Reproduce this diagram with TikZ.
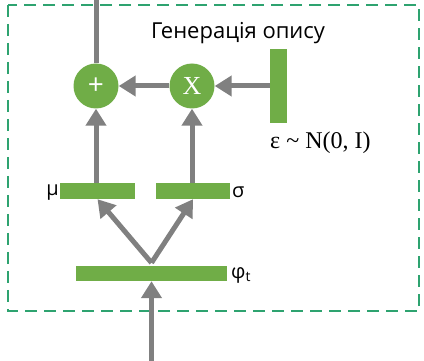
\documentclass[tikz,border=0pt]{standalone}
\usepackage{fontspec}
\setmainfont{Liberation Serif}
\newfontfamily\labfont{Open Sans}
\usetikzlibrary{arrows.meta}
\definecolor{gr}{RGB}{112,173,71}
\definecolor{dashcol}{RGB}{46,163,112}
\definecolor{ar}{RGB}{128,128,128}
\begin{document}
\begin{tikzpicture}[x=1pt,y=-1pt,
  bar/.style={fill=gr,draw=none,inner sep=0pt,minimum width=#1},
  op/.style={circle,fill=gr,draw=none,minimum size=45pt,inner sep=0pt,text=white},
  conn/.style={draw=ar,line width=5pt,-{Triangle[length=17pt,width=20pt]}},
  lab/.style={font=\labfont\fontsize{20}{22}\selectfont,inner sep=0pt}]
\useasboundingbox (0,0) rectangle (424,361);
\draw[dashcol,line width=2.5pt,dash pattern=on 12pt off 7pt] (8,5) rectangle (419,311);
% nodes
\node[op,font=\fontsize{28}{28}\selectfont\labfont] (plus) at (96,86) {+};
\node[op,font=\fontsize{26}{26}\selectfont] (mul) at (192,86) {X};
\node[bar=17pt,minimum height=74pt] (eps) at (278.5,86) {};
\node[bar=75pt,minimum height=16pt] (mu) at (97.5,191) {};
\node[bar=74pt,minimum height=16pt] (sig) at (193,191) {};
\node[bar=151pt,minimum height=15pt] (phi) at (151.5,273.5) {};
\node[lab,font=\labfont\fontsize{22}{24}\selectfont,anchor=center] (gen) at (238,33) {Генерація опису};
\node[font=\fontsize{24}{26}\selectfont,anchor=west,inner sep=0pt] (epsl) at (270,143) {ε \textasciitilde\ N(0, I)};
\node[lab,anchor=east] (mulab) at (59,193) {μ};
\node[lab,anchor=west] (sigl) at (232,192) {σ};
\node[lab,anchor=west] (phil) at (231,275) {φ\textsubscript{t}};
\coordinate (top) at (96,0);
\coordinate (bot) at (151.5,361);
% connectors
\draw[draw=ar,line width=5pt] (plus.north) -- (top);
\draw[conn] (eps.west) -- (mul.east);
\draw[conn] (mul.west) -- (plus.east);
\draw[conn] (mu.north -| plus) -- (plus.south);
\draw[conn] (sig.north -| mul) -- (mul.south);
\draw[conn] ([yshift=3pt]phi.north) -- (mu.south);
\draw[conn] ([yshift=3pt]phi.north) -- (sig.south);
\draw[conn] (bot) -- (phi.south);
\end{tikzpicture}
\end{document}
